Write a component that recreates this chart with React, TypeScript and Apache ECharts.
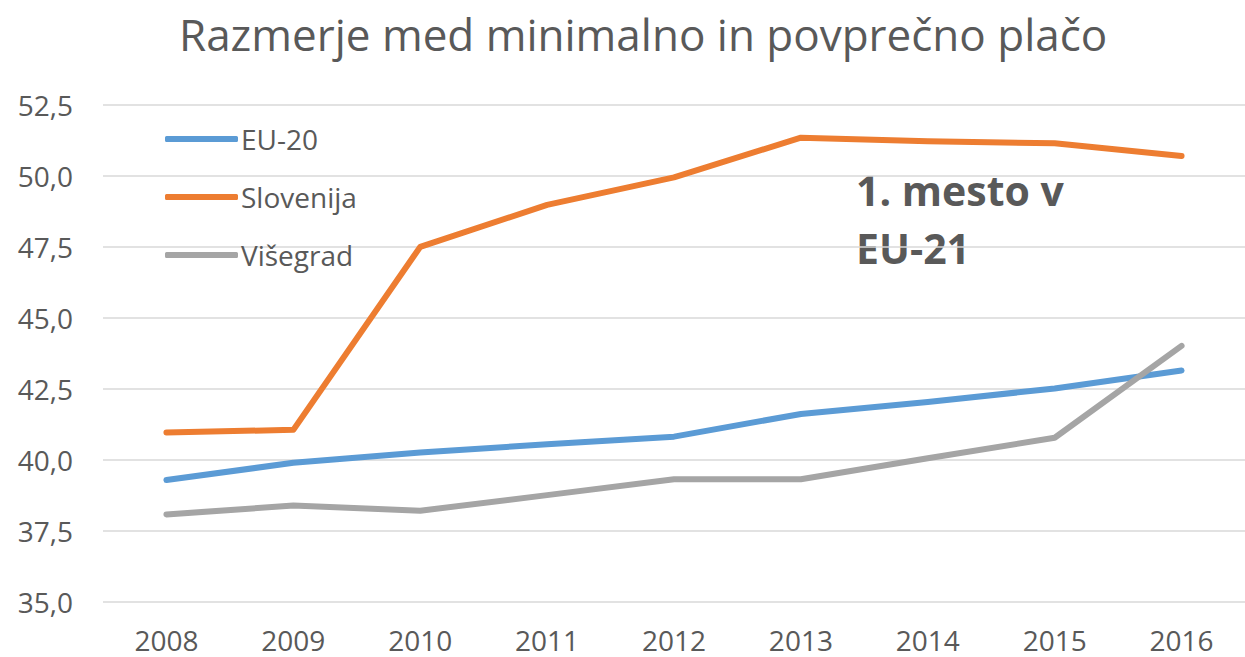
import React, { useEffect, useRef } from "react";
import * as echarts from "echarts";

const years = ["2008", "2009", "2010", "2011", "2012", "2013", "2014", "2015", "2016"];
const eu20 = [39.28, 39.89, 40.25, 40.54, 40.81, 41.61, 42.03, 42.51, 43.14];
const slovenija = [40.96, 41.05, 47.5, 48.98, 49.95, 51.35, 51.22, 51.15, 50.7];
const visegrad = [38.07, 38.38, 38.2, 38.75, 39.31, 39.31, 40.05, 40.77, 44.01];
const titleText = "Razmerje med minimalno in povprečno plačo";
const noteLines = ["1. mesto v", "EU-21"];

const FONT = "'Open Sans', 'Noto Sans', sans-serif";
const TEXT = "#595959";

export default function App() {
  const ref = useRef<HTMLDivElement>(null);
  useEffect(() => {
    if (!ref.current) return;
    const chart = echarts.init(ref.current, null, { renderer: "svg" });
    const mk = (name: string, data: number[], color: string) => ({
      name,
      type: "line",
      data,
      symbol: "none",
      lineStyle: { color, width: 6, cap: "round", join: "round" },
      itemStyle: { color },
    });
    chart.setOption({
      animation: false,
      backgroundColor: "#ffffff",
      textStyle: { fontFamily: FONT },
      title: {
        text: titleText,
        left: 174,
        top: 7,
        textStyle: { fontFamily: FONT, fontSize: 44, fontWeight: "normal", color: TEXT },
      },
      legend: {
        orient: "vertical",
        left: 160,
        top: 120,
        itemWidth: 73,
        itemHeight: 6,
        itemGap: 30,
        icon: "roundRect",
        textStyle: { fontFamily: FONT, fontSize: 28, color: TEXT, padding: [0, 0, 0, -2] },
        data: ["EU-20", "Slovenija", "Višegrad"],
      },
      grid: { left: 103, width: 1144, top: 105, bottom: 55.5 },
      xAxis: {
        type: "category",
        data: years,
        boundaryGap: true,
        axisLine: { show: false },
        axisTick: { show: false },
        axisLabel: { fontFamily: FONT, fontSize: 28, color: TEXT, margin: 24 },
      },
      yAxis: {
        type: "value",
        min: 35,
        max: 52.5,
        interval: 2.5,
        axisLine: { show: false },
        axisTick: { show: false },
        splitLine: { lineStyle: { color: "#D9D9D9", width: 1.5 } },
        axisLabel: {
          fontFamily: FONT,
          fontSize: 28,
          color: TEXT,
          margin: 30,
          formatter: (v: number) => v.toFixed(1).replace(".", ","),
        },
      },
      graphic: noteLines.map((t, i) => ({
        type: "text",
        left: 856,
        top: 169 + i * 58,
        style: { text: t, fontFamily: FONT, fontSize: 41, fontWeight: "bold", fill: TEXT },
      })),
      series: [
        mk("EU-20", eu20, "#5B9BD5"),
        mk("Slovenija", slovenija, "#ED7D31"),
        mk("Višegrad", visegrad, "#A5A5A5"),
      ],
    });
    return () => chart.dispose();
  }, []);
  return (
    <div
      ref={ref}
      style={{ position: "fixed", left: 0, top: 0, width: 1245, height: 657, background: "#fff" }}
    />
  );
}
